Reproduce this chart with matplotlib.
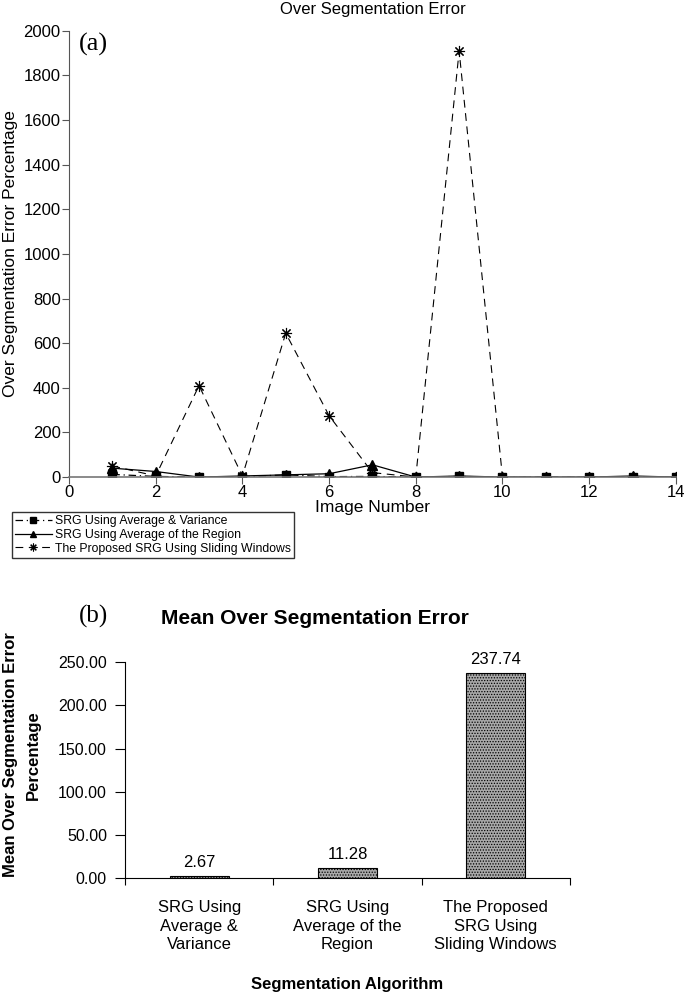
import numpy as np
import matplotlib
matplotlib.use('Agg')
import matplotlib.pyplot as plt

plt.rcParams['font.family'] = ['Liberation Sans', 'DejaVu Sans']
plt.rcParams['hatch.linewidth'] = 0.6

# (a) over segmentation error per image
image_number = np.arange(1, 15)
avg_variance = [12, 3, 0, 2, 10, 2, 3, 0, 3, 0, 0, 0, 2, 0]
avg_region = [40, 25, 0, 5, 10, 15, 55, 0, 5, 0, 0, 0, 5, 0]
sliding_windows = [50, 5, 410, 5, 645, 275, 20, 0, 1910, 0, 0, 0, 0, 0]

# (b) mean over segmentation error
algorithms = ['SRG Using\nAverage &\nVariance',
              'SRG Using\nAverage of the\nRegion',
              'The Proposed\nSRG Using\nSliding Windows']
mean_error = [2.67, 11.28, 237.74]

fig = plt.figure(figsize=(6.85, 9.96), dpi=100)

# ---- top chart ----
ax = fig.add_axes([0.1007, 0.521, 0.886, 0.448])
ax.plot(image_number, avg_variance, color='black', linestyle=(0, (6, 3, 1, 3)),
        linewidth=0.9, marker='s', markersize=6, label='SRG Using Average & Variance')
ax.plot(image_number, avg_region, color='black', linestyle='-',
        linewidth=0.9, marker='^', markersize=7, label='SRG Using Average of the Region')
ax.plot(image_number, sliding_windows, color='black', linestyle=(0, (7, 5)),
        linewidth=0.8, marker=(8, 2, 0), markersize=8, markeredgewidth=0.8,
        label='The Proposed SRG Using Sliding Windows')
ax.set_xlim(0, 14)
ax.set_ylim(0, 2000)
ax.set_xticks(np.arange(0, 15, 2))
ax.set_yticks(np.arange(0, 2001, 200))
ax.spines['top'].set_visible(False)
ax.spines['right'].set_visible(False)
ax.spines['left'].set_color('#555555')
ax.spines['bottom'].set_color('#777777')
ax.spines['bottom'].set_linewidth(1.2)
ax.tick_params(direction='out', labelsize=12, length=5, pad=1, color='#555555')
ax.set_xlabel('Image Number', fontsize=12.5, labelpad=0)
ax.set_ylabel('Over Segmentation Error Percentage', fontsize=12.5, labelpad=4)
ax.set_title('Over Segmentation Error', fontsize=12, pad=12)
ax.text(0.017, 0.995, '(a)', transform=ax.transAxes, family='Liberation Serif',
        fontsize=19, va='top', ha='left')
ax.legend(loc='upper left', bbox_to_anchor=(0.0175, 0.486), bbox_transform=fig.transFigure,
          fontsize=8.8, frameon=True, fancybox=False, edgecolor='black',
          handlelength=3, handletextpad=0.3, borderpad=0.25, labelspacing=0.15,
          borderaxespad=0, markerscale=0.7)

# ---- bottom chart ----
bx = fig.add_axes([0.1825, 0.1185, 0.6495, 0.2165])
x = np.arange(len(algorithms))
bx.bar(x, mean_error, width=0.4, facecolor='#a8a8a8', edgecolor='black',
       hatch='......', linewidth=0.8)
for xi, v in zip(x, mean_error):
    bx.text(xi, v + 7, '%.2f' % v, ha='center', va='bottom', fontsize=12)
bx.set_xlim(-0.5, 2.5)
bx.set_ylim(0, 250)
bx.set_yticks(np.arange(0, 251, 50))
bx.set_yticklabels(['%.2f' % t for t in np.arange(0, 251, 50)])
bx.set_xticks([-0.5, 0.5, 1.5, 2.5], minor=False)
bx.set_xticklabels([])
bx.set_xticks(x, minor=True)
bx.set_xticklabels(algorithms, minor=True, fontsize=12, linespacing=1.3)
bx.tick_params(axis='x', which='minor', length=0, pad=16)
bx.tick_params(axis='x', which='major', direction='out', length=5)
bx.tick_params(axis='y', direction='out', length=7, labelsize=11.5, pad=6)
bx.spines['top'].set_visible(False)
bx.spines['right'].set_visible(False)
bx.set_xlabel('Segmentation Algorithm', fontsize=12, fontweight='bold', labelpad=18)
fig.text(0.016, 0.242, 'Mean Over Segmentation Error', rotation=90,
         ha='center', va='center', fontsize=12, fontweight='bold')
fig.text(0.049, 0.242, 'Percentage', rotation=90,
         ha='center', va='center', fontsize=12, fontweight='bold')
fig.text(0.46, 0.379, 'Mean Over Segmentation Error', ha='center', va='center',
         fontsize=15, fontweight='bold')
fig.text(0.137, 0.381, '(b)', family='Liberation Serif', fontsize=18,
         ha='center', va='center')

fig.savefig('out.png', dpi=100)
